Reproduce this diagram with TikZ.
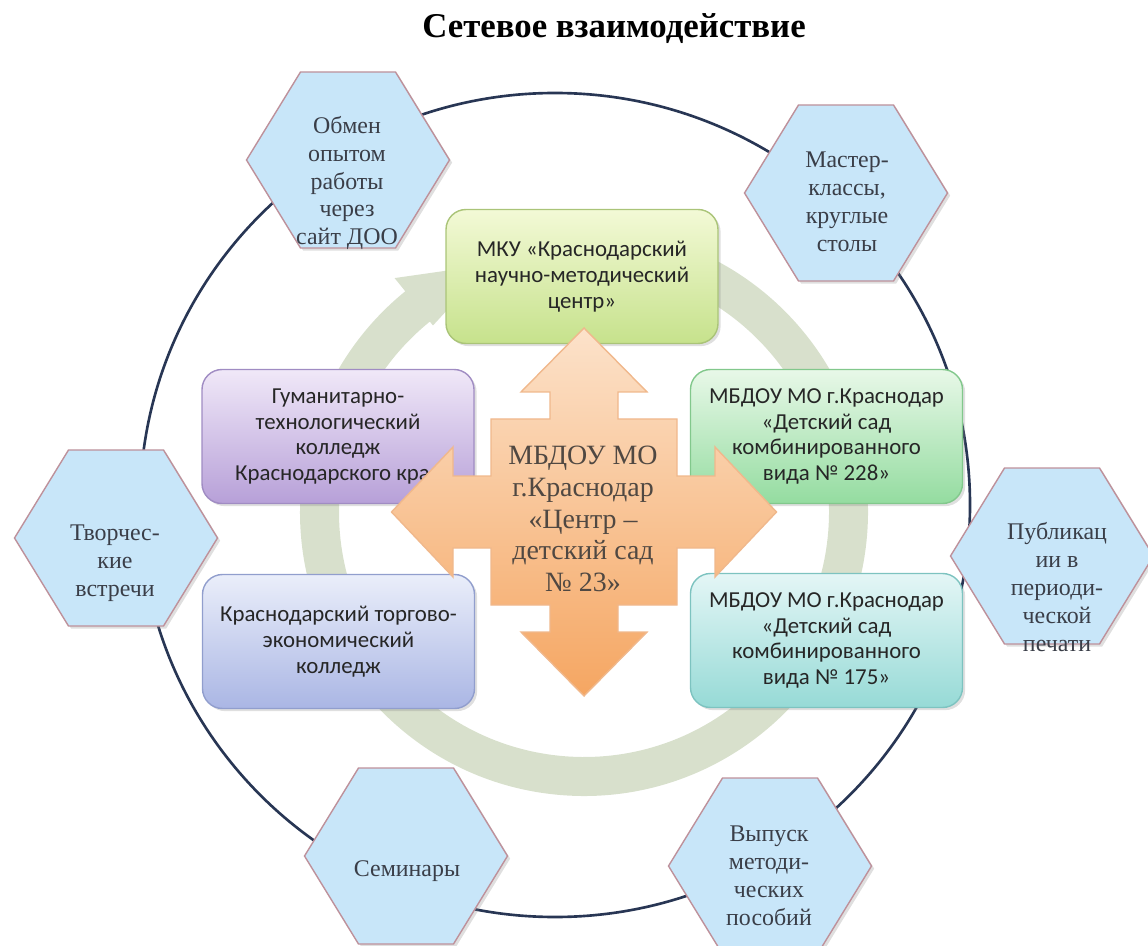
\documentclass[tikz,border=0pt]{standalone}
\usepackage{fontspec}
\setmainfont{Liberation Serif}
\newfontfamily\boxfont{Carlito}
\usetikzlibrary{shadows}

\definecolor{ringline}{RGB}{40,54,84}
\definecolor{hexfill}{RGB}{200,230,249}
\definecolor{hexedge}{RGB}{190,145,155}
\definecolor{hextxt}{RGB}{58,62,72}
\definecolor{bandfill}{RGB}{216,224,204}
\definecolor{cardtxt}{RGB}{38,38,38}
\definecolor{centtxt}{RGB}{80,72,66}

\begin{document}
\begin{tikzpicture}[
    hexa/.style={fill=hexfill,draw=hexedge,line width=0.8pt,
      drop shadow={opacity=0.25,shadow xshift=1.5pt,shadow yshift=-1.5pt}},
    hextext/.style={align=center,text=hextxt,font=\fontsize{13.6}{15.9}\selectfont},
    card/.style={rectangle,rounded corners=0.4cm,minimum width=5.44cm,minimum height=2.68cm,
      align=center,text=cardtxt,line width=0.8pt,font=\boxfont\fontsize{13}{14.7}\selectfont,
      drop shadow={opacity=0.25,shadow xshift=1.5pt,shadow yshift=-1.5pt}},
  ]
  \useasboundingbox (0,0) rectangle (22.96,-18.92);

  \node[font=\bfseries\fontsize{19.8}{24}\selectfont,anchor=base] (title) at (12.28,-0.76) {Сетевое взаимодействие};

  % outer ring
  \draw[ringline,line width=1.5pt] (11.10,-10.10) ellipse [x radius=8.30,y radius=8.24];

  \foreach \nm/\hx/\hy/\tx/\ty/\txt in {
      obmen/6.96/-3.20/6.94/-3.66/{Обмен\\опытом\\работы\\через\\сайт ДОО},
      master/16.92/-3.86/16.94/-4.04/{Мастер-\\классы,\\круглые\\столы},
      tvorch/2.32/-10.76/2.30/-11.26/{Творчес-\\кие\\встречи},
      seminar/8.12/-17.12/8.14/-17.42/{Семинары},
      vypusk/15.40/-17.32/15.38/-17.52/{Выпуск\\методи-\\ческих\\пособий},
      publik/21.04/-11.12/21.14/-11.74/{Публикац\\ии в\\периоди-\\ческой\\печати}} {
    \path[hexa,shift={(\hx,\hy)}] (-2.03,0) -- (-0.95,1.76) -- (0.95,1.76) -- (2.03,0)
      -- (0.95,-1.76) -- (-0.95,-1.76) -- cycle;
    \node[hextext] (\nm) at (\tx,\ty) {\txt};
  }

  % circular arrow behind the cards
  \fill[bandfill,shift={(11.68,-10.24)}] (85:5.68) arc[start angle=85,end angle=-231,radius=5.68]
    -- (-231:6.02) -- (-249:5.30) -- (-231:4.80) -- (-231:4.90)
    arc[start angle=-231,end angle=85,radius=4.90] -- cycle;

  \node[card,top color={rgb,255:red,243;green,249;blue,214},bottom color={rgb,255:red,198;green,226;blue,140},
    draw={rgb,255:red,170;green,196;blue,120}] (mku) at (11.64,-5.53) {МКУ «Краснодарский\\научно-методический\\центр»};
  \node[card,top color={rgb,255:red,240;green,232;blue,248},bottom color={rgb,255:red,183;green,160;blue,216},
    draw={rgb,255:red,160;green,140;blue,195}] (gum) at (6.76,-8.73) {Гуманитарно-\\технологический\\колледж\\Краснодарского края};
  \node[card,top color={rgb,255:red,234;green,238;blue,250},bottom color={rgb,255:red,170;green,182;blue,228},
    draw={rgb,255:red,145;green,158;blue,205}] (torg) at (6.77,-12.83) {Краснодарский торгово-\\экономический\\колледж};
  \node[card,top color={rgb,255:red,232;green,248;blue,232},bottom color={rgb,255:red,148;green,220;blue,160},
    draw={rgb,255:red,130;green,200;blue,140}] (sad228) at (16.53,-8.73) {МБДОУ МО г.Краснодар\\«Детский сад\\комбинированного\\вида № 228»};
  \node[card,top color={rgb,255:red,228;green,246;blue,246},bottom color={rgb,255:red,150;green,218;blue,214},
    draw={rgb,255:red,125;green,195;blue,192}] (sad175) at (16.53,-12.81) {МБДОУ МО г.Краснодар\\«Детский сад\\комбинированного\\вида № 175»};

  % four-way arrow in the middle
  \path[shift={(11.68,-10.24)},top color={rgb,255:red,252;green,226;blue,202},
    bottom color={rgb,255:red,245;green,166;blue,98},draw={rgb,255:red,240;green,184;blue,140},line width=0.8pt]
    (0,3.68) -- (1.26,2.40) -- (0.68,2.40) -- (0.68,1.86) -- (1.86,1.86) -- (1.86,0.72)
    -- (2.62,0.72) -- (2.62,1.30) -- (3.85,0) -- (2.62,-1.30) -- (2.62,-0.72) -- (1.86,-0.72)
    -- (1.86,-1.86) -- (0.68,-1.86) -- (0.68,-2.40) -- (1.26,-2.40) -- (0,-3.68) -- (-1.26,-2.40)
    -- (-0.68,-2.40) -- (-0.68,-1.86) -- (-1.86,-1.86) -- (-1.86,-0.72) -- (-2.62,-0.72)
    -- (-2.62,-1.30) -- (-3.85,0) -- (-2.62,1.30) -- (-2.62,0.72) -- (-1.86,0.72) -- (-1.86,1.86)
    -- (-0.68,1.86) -- (-0.68,2.40) -- (-1.26,2.40) -- cycle;
  \node[align=center,text=centtxt,font=\fontsize{15.9}{18.1}\selectfont] (centr) at (11.66,-10.38)
    {МБДОУ МО\\г.Краснодар\\«Центр –\\детский сад\\№ 23»};
\end{tikzpicture}
\end{document}
